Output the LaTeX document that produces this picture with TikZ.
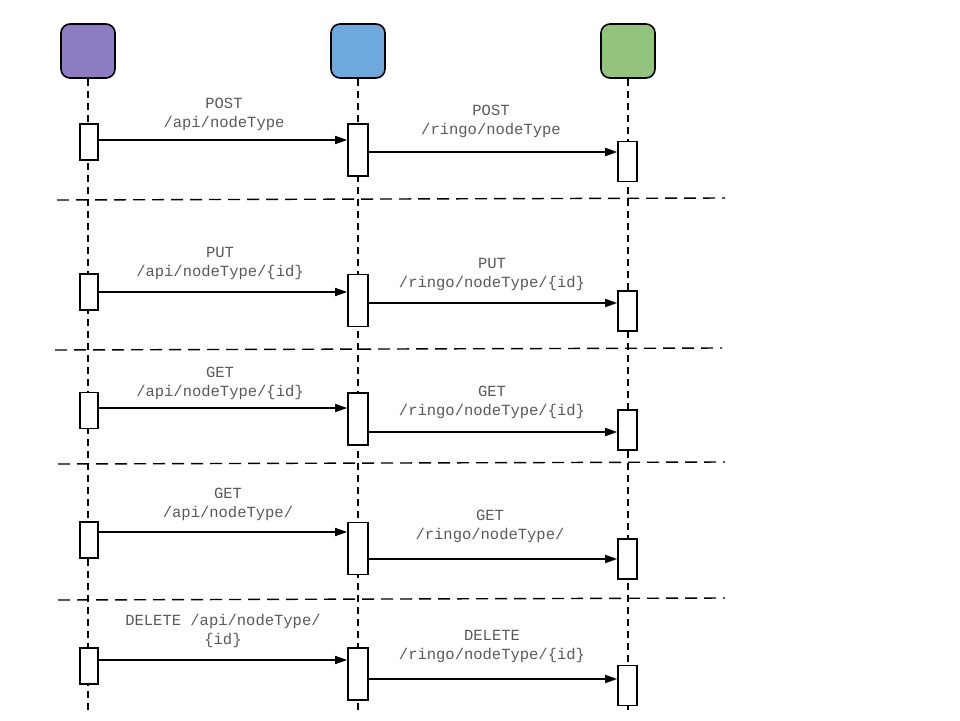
\documentclass[tikz,border=0pt]{standalone}
\usepackage{fontspec}
\newfontfamily\msgfont{Liberation Mono}
\usetikzlibrary{arrows.meta}
\definecolor{headpurple}{HTML}{8E7CC3}
\definecolor{headblue}{HTML}{6FA8DC}
\definecolor{headgreen}{HTML}{93C47D}
\begin{document}
\begin{tikzpicture}
  [x=1pt,y=-1pt,line width=1.6pt,
   head/.style={draw,rounded corners=9pt,minimum width=54pt,minimum height=54pt,inner sep=0pt},
   lifeline/.style={line width=1.4pt,dash pattern=on 7pt off 5pt},
   divider/.style={line width=1.4pt,dash pattern=on 12pt off 7pt},
   actbox/.style={draw,fill=white,inner sep=0pt,minimum width=#1},
   msg/.style={-{Triangle[length=12pt,width=8pt]}},
   msglabel/.style={font=\msgfont\fontsize{15.5}{19}\selectfont,text=black!65,align=center,inner sep=0pt}]
  \useasboundingbox (0,0) rectangle (960,720);
  % lifeline heads
  \node (client)[head,fill=headpurple] at (88,51) {};
  \node (api)[head,fill=headblue] at (358,51) {};
  \node (ringo)[head,fill=headgreen] at (628,51) {};
  \coordinate (clientend) at (88,712);
  \coordinate (apiend) at (358,712);
  \coordinate (ringoend) at (628,712);
  \foreach \h in {client,api,ringo}
    \draw[lifeline] (\h.south) -- (\h end);
  % section dividers
  \draw[divider] (57,200) -- (725,198);
  \draw[divider] (55,350) -- (722,348);
  \draw[divider] (58,464) -- (725,462);
  \draw[divider] (58,600) -- (725,598);
  % activation boxes
  \foreach \i/\ya/\yb/\yc in {1/142/150/161.5,2/292/300.5/311,3/410.5/419/430,4/540/548.5/559,5/666/674/685.5} {
    \node (a\i)[actbox=18pt,minimum height=36pt] at (89,\ya) {};
    \node (b\i)[actbox=20pt,minimum height=52pt] at (358,\yb) {};
    \node (c\i)[actbox=19pt,minimum height=40pt] at (627.5,\yc) {};
  }
  % messages
  \foreach \i/\ya/\yb in {1/140/152,2/292/303,3/408/432,4/532/559,5/660/679} {
    \draw[msg] (a\i.east |- 0,\ya) -- (b\i.west |- 0,\ya);
    \draw[msg] (b\i.east |- 0,\yb) -- (c\i.west |- 0,\yb);
  }
  % message labels
  \node (l1a)[msglabel] at (224,114) {POST\\/api/nodeType};
  \node (l1b)[msglabel] at (491,121) {POST\\/ringo/nodeType};
  \node (l2a)[msglabel] at (220,263) {PUT\\/api/nodeType/\{id\}};
  \node (l2b)[msglabel] at (492,274.5) {PUT\\/ringo/nodeType/\{id\}};
  \node (l3a)[msglabel] at (220,383.5) {GET\\/api/nodeType/\{id\}};
  \node (l3b)[msglabel] at (492,402) {GET\\/ringo/nodeType/\{id\}};
  \node (l4a)[msglabel] at (228,504.5) {GET\\/api/nodeType/};
  \node (l4b)[msglabel] at (490,526) {GET\\/ringo/nodeType/};
  \node (l5a)[msglabel] at (223,631) {DELETE /api/nodeType/\\\{id\}};
  \node (l5b)[msglabel] at (492,646.5) {DELETE\\/ringo/nodeType/\{id\}};
\end{tikzpicture}
\end{document}
